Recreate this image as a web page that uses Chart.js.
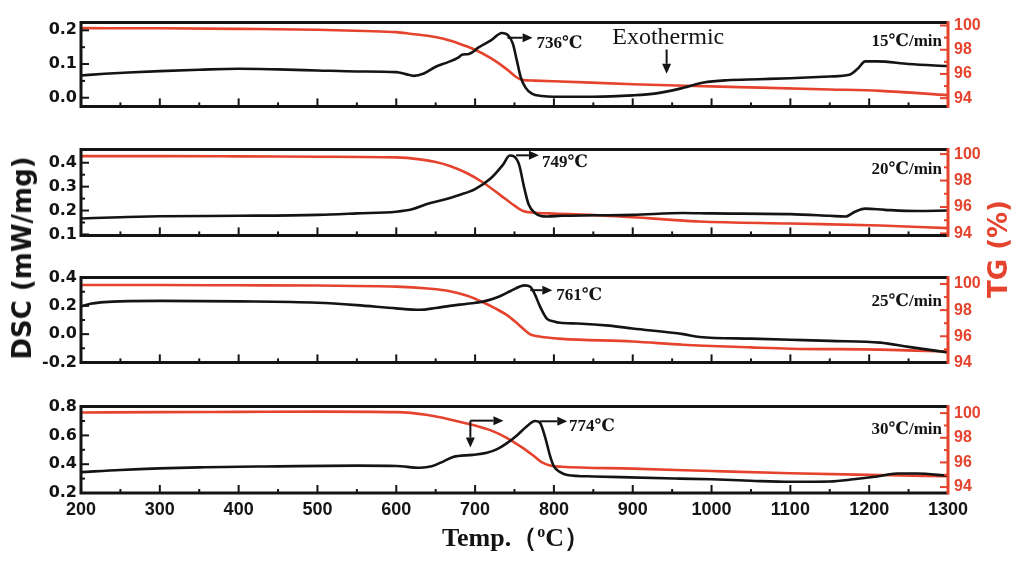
<!DOCTYPE html>
<html><head><meta charset="utf-8">
<script src="https://cdn.jsdelivr.net/npm/chart.js@4.4.1/dist/chart.umd.min.js"></script>
<style>
html,body{margin:0;padding:0;background:#fff;}
#wrap{position:relative;width:1014px;height:578px;overflow:hidden;background:#fff;}
canvas{position:absolute;left:0;}
.t{position:absolute;white-space:nowrap;}
</style></head><body>
<div id="wrap">
<canvas id="c1"></canvas><canvas id="c2"></canvas><canvas id="c3"></canvas><canvas id="c4"></canvas>
<div class="t" id="ytitle" style="left:22px;top:258px;transform:translate(-50%,-50%) rotate(-90deg);font:bold 26px 'DejaVu Sans',sans-serif;color:#141414;">DSC (mW/mg)</div>
<div class="t" id="y2title" style="left:998px;top:249px;transform:translate(-50%,-50%) rotate(-90deg);font:bold 26px 'DejaVu Sans',sans-serif;color:#e5432d;">TG (%)</div>
<div class="t" id="xtitle" style="left:516px;top:523px;transform:translateX(-50%);font:bold 26px 'Liberation Serif',serif;line-height:30px;color:#141414;">Temp.（<span style="font-size:16px;position:relative;top:-9px;">o</span>C）</div>
</div>
<script>
// ---------- data ----------
const xTickValues = [200,300,400,500,600,700,800,900,1000,1100,1200,1300];
const tgTickValues = [94,96,98,100];
const dscTicks15 = [0.0,0.1,0.2];
const dscTicks20 = [0.1,0.2,0.3,0.4];
const dscTicks25 = [-0.2,0.0,0.2,0.4];
const dscTicks30 = [0.2,0.4,0.6,0.8];
const rateLabels = ['15℃/min','20℃/min','25℃/min','30℃/min'];
const peakTemps = [736,749,761,774];

// 15 C/min
const dsc15T = [200,230,260,300,350,400,450,500,550,600,612,622,635,650,665,678,684,692,705,720,734,742,748,753,758,764,772,785,800,850,900,930,960,990,1020,1060,1100,1150,1175,1185,1195,1210,1250,1300];
const dsc15V = [0.066,0.071,0.075,0.079,0.083,0.086,0.084,0.081,0.078,0.076,0.070,0.065,0.072,0.092,0.105,0.118,0.128,0.130,0.150,0.170,0.192,0.185,0.160,0.110,0.060,0.030,0.012,0.005,0.003,0.003,0.007,0.013,0.027,0.045,0.052,0.055,0.058,0.063,0.068,0.085,0.108,0.108,0.100,0.094];
const tg15T = [200,300,400,500,560,600,620,640,660,680,700,720,740,752,760,775,800,900,1000,1062,1150,1214,1300];
const tg15V = [99.78,99.77,99.72,99.65,99.55,99.45,99.3,99.15,98.9,98.5,98.0,97.3,96.4,95.75,95.5,95.45,95.4,95.15,94.97,94.87,94.72,94.6,94.25];

// 20 C/min
const dsc20T = [200,250,300,400,500,550,600,620,640,660,680,700,720,735,744,750,756,762,768,776,791,810,850,900,964,1000,1100,1150,1170,1182,1195,1220,1260,1300];
const dsc20V = [0.167,0.172,0.176,0.178,0.182,0.188,0.195,0.205,0.228,0.245,0.265,0.29,0.335,0.39,0.43,0.425,0.39,0.30,0.225,0.19,0.175,0.178,0.180,0.182,0.19,0.188,0.185,0.178,0.175,0.195,0.208,0.203,0.198,0.200];
const tg20T = [200,300,400,500,600,630,650,668,690,710,732,750,763,780,800,880,985,1100,1214,1300];
const tg20V = [99.85,99.85,99.83,99.8,99.75,99.6,99.4,99.1,98.55,97.85,96.9,96.1,95.65,95.55,95.5,95.3,94.9,94.75,94.6,94.4];

// 25 C/min
const dsc25T = [200,212,225,250,300,400,500,550,600,630,650,668,690,710,730,745,763,770,776,782,791,800,808,830,870,900,964,985,1050,1100,1150,1214,1250,1300];
const dsc25V = [0.195,0.215,0.225,0.232,0.235,0.232,0.222,0.205,0.182,0.172,0.185,0.20,0.215,0.23,0.265,0.305,0.345,0.335,0.28,0.20,0.11,0.09,0.08,0.075,0.06,0.04,0.0,-0.02,-0.032,-0.04,-0.048,-0.06,-0.09,-0.13];
const tg25T = [200,300,400,500,600,640,668,690,710,725,741,755,770,780,791,810,900,964,1050,1100,1214,1300];
const tg25V = [99.92,99.92,99.9,99.88,99.8,99.65,99.45,99.1,98.6,98.15,97.6,96.9,96.15,96.0,95.9,95.8,95.6,95.35,95.15,95.05,94.98,94.83];

// 30 C/min
const dsc30T = [200,250,350,450,550,600,630,645,660,672,697,715,728,740,753,765,776,782,789,795,800,808,817,850,884,960,1000,1050,1100,1150,1180,1210,1235,1260,1300];
const dsc30V = [0.345,0.36,0.378,0.385,0.39,0.388,0.375,0.385,0.42,0.45,0.465,0.48,0.505,0.545,0.60,0.66,0.70,0.69,0.585,0.46,0.385,0.345,0.325,0.315,0.31,0.30,0.295,0.285,0.278,0.28,0.295,0.315,0.335,0.335,0.32];
const tg30T = [200,300,400,500,600,640,660,680,700,720,740,760,775,785,795,810,900,1000,1100,1212,1300];
const tg30V = [100.05,100.08,100.1,100.12,100.08,99.85,99.6,99.3,99.0,98.6,98.0,97.2,96.5,96.0,95.75,95.65,95.5,95.3,95.12,94.98,94.88];

// ---------- styling / layout ----------
const RED = '#e5432d';
const BLACK = '#141414';
const PAD = 14;
const LEFT_W = 81, RIGHT_W = 66;
const peakFont = 'bold 17px "Liberation Serif","DejaVu Serif","Noto Sans CJK SC",serif';

function pts(T,V){ return T.map((t,i)=>({x:t,y:V[i]})); }
function mids(a){ const r=[]; for(let i=0;i<a.length-1;i++) r.push((a[i]+a[i+1])/2); return r; }

function drawArrow(ctx,x1,y1,x2,y2){
  const ang=Math.atan2(y2-y1,x2-x1), L=10, W=4.5;
  const bx=x2-L*Math.cos(ang), by=y2-L*Math.sin(ang);
  ctx.beginPath(); ctx.moveTo(x1,y1); ctx.lineTo(bx,by); ctx.stroke();
  ctx.beginPath(); ctx.moveTo(x2,y2);
  ctx.lineTo(bx+W*Math.sin(ang), by-W*Math.cos(ang));
  ctx.lineTo(bx-W*Math.sin(ang), by+W*Math.cos(ang));
  ctx.closePath(); ctx.fill();
}

const framePlugin = {
  id:'frame',
  afterDatasetsDraw(chart){
    const o = chart.options.plugins.frame;
    const {ctx, chartArea:a} = chart;
    const x=chart.scales.x, y=chart.scales.y, y1=chart.scales.y1;
    ctx.save();
    const tick=(xa,ya,xb,yb)=>{ctx.beginPath();ctx.moveTo(xa,ya);ctx.lineTo(xb,yb);ctx.stroke();};
    ctx.lineWidth=2; ctx.strokeStyle=BLACK;
    xTickValues.forEach(v=>{const p=x.getPixelForValue(v); tick(p,a.bottom,p,a.bottom-8);});
    mids(xTickValues).forEach(v=>{const p=x.getPixelForValue(v); tick(p,a.bottom,p,a.bottom-4);});
    o.dscTicks.forEach(v=>{const p=y.getPixelForValue(v); tick(a.left,p,a.left+8,p);});
    mids(o.dscTicks).forEach(v=>{const p=y.getPixelForValue(v); tick(a.left,p,a.left+4,p);});
    ctx.strokeStyle=RED;
    tgTickValues.forEach(v=>{const p=y1.getPixelForValue(v); tick(a.right,p,a.right-8,p);});
    mids(tgTickValues).forEach(v=>{const p=y1.getPixelForValue(v); tick(a.right,p,a.right-4,p);});
    // frame
    ctx.lineWidth=3; ctx.strokeStyle=BLACK;
    ctx.beginPath(); ctx.moveTo(a.right,a.top); ctx.lineTo(a.left,a.top); ctx.lineTo(a.left,a.bottom); ctx.lineTo(a.right,a.bottom); ctx.stroke();
    ctx.strokeStyle=RED;
    ctx.beginPath(); ctx.moveTo(a.right,a.top-1.5); ctx.lineTo(a.right,a.bottom+1.5); ctx.stroke();
    // rate label
    ctx.fillStyle=BLACK; ctx.font=peakFont; ctx.textAlign='right'; ctx.textBaseline='middle';
    ctx.fillText(o.rate, a.right-6, a.top+o.rateDy);
    // arrows
    ctx.strokeStyle=BLACK; ctx.fillStyle=BLACK; ctx.lineWidth=2;
    o.arrows.forEach(ar=>drawArrow(ctx,x.getPixelForValue(ar[0]),y.getPixelForValue(ar[1]),x.getPixelForValue(ar[2]),y.getPixelForValue(ar[3])));
    ctx.textAlign='left'; ctx.textBaseline='middle';
    o.texts.forEach(t=>{ ctx.font=t.font; ctx.fillText(t.text,x.getPixelForValue(t.x),y.getPixelForValue(t.y)); });
    ctx.restore();
  }
};

const panels = [
  {id:'c1', top:21, bottom:108, dscT:dsc15T, dscV:dsc15V, tgT:tg15T, tgV:tg15V,
   dMin:-0.0257, dMax:0.2229, dscTicks:dscTicks15, tMin:93.32, tMax:100.24, rate:rateLabels[0], rateDy:19, showX:false,
   arrows:[[741,0.178,773,0.178],[943,0.143,943,0.071]],
   texts:[{text:peakTemps[0]+'℃', x:778, y:0.162, font:peakFont},
          {text:'Exothermic', x:874, y:0.177, font:'24px "Liberation Serif","DejaVu Serif",serif'}]},
  {id:'c2', top:148, bottom:237, dscT:dsc20T, dscV:dsc20V, tgT:tg20T, tgV:tg20V,
   dMin:0.096, dMax:0.455, dscTicks:dscTicks20, tMin:93.85, tMax:100.34, rate:rateLabels[1], rateDy:20, showX:false,
   arrows:[[752,0.431,781,0.431]],
   texts:[{text:peakTemps[1]+'℃', x:785, y:0.399, font:peakFont}]},
  {id:'c3', top:276, bottom:364, dscT:dsc25T, dscV:dsc25V, tgT:tg25T, tgV:tg25V,
   dMin:-0.2, dMax:0.4, dscTicks:dscTicks25, tMin:94.0, tMax:100.49, rate:rateLabels[2], rateDy:24, showX:false,
   arrows:[[770,0.311,798,0.311]],
   texts:[{text:peakTemps[2]+'℃', x:803, y:0.27, font:peakFont}]},
  {id:'c4', top:405, bottom:493, dscT:dsc30T, dscV:dsc30V, tgT:tg30T, tgV:tg30V,
   dMin:0.2, dMax:0.8, dscTicks:dscTicks30, tMin:93.52, tMax:100.53, rate:rateLabels[3], rateDy:23, showX:true,
   arrows:[[782,0.698,817,0.698],[694,0.7025,736,0.7025],[694,0.7025,694,0.516]],
   texts:[{text:peakTemps[3]+'℃', x:819, y:0.664, font:peakFont}]}
];

panels.forEach(p=>{
  const cv=document.getElementById(p.id);
  const xH = p.showX ? 40 : 0;
  const padB = p.showX ? 0 : PAD;
  cv.width=1014; cv.height=(p.bottom-p.top)+PAD+padB+xH;
  cv.style.top=(p.top-PAD)+'px';
  new Chart(cv,{
    type:'line',
    data:{datasets:[
      {data:pts(p.dscT,p.dscV), yAxisID:'y', borderColor:BLACK, borderWidth:2.6, pointRadius:0, cubicInterpolationMode:'monotone', fill:false},
      {data:pts(p.tgT,p.tgV), yAxisID:'y1', borderColor:RED, borderWidth:2.6, pointRadius:0, cubicInterpolationMode:'monotone', fill:false}
    ]},
    options:{
      responsive:false, animation:false, devicePixelRatio:1,
      layout:{padding:{top:PAD,bottom:padB,left:0,right:0}},
      plugins:{legend:{display:false}, tooltip:{enabled:false},
        frame:{dscTicks:p.dscTicks, rate:p.rate, rateDy:p.rateDy, arrows:p.arrows, texts:p.texts}},
      scales:{
        x:{type:'linear', min:200, max:1300,
           afterBuildTicks:s=>{s.ticks=xTickValues.map(v=>({value:v}));},
           grid:{display:false, drawTicks:false}, border:{display:false},
           ticks:{display:p.showX, padding:6, autoSkip:false, maxRotation:0, color:BLACK, callback:v=>String(v),
                  font:{family:'"Liberation Sans", Arial, sans-serif', weight:'bold', size:18}},
           afterFit:s=>{s.height=xH;}},
        y:{type:'linear', position:'left', min:p.dMin, max:p.dMax,
           afterBuildTicks:s=>{s.ticks=p.dscTicks.map(v=>({value:v}));},
           grid:{display:false, drawTicks:false}, border:{display:false},
           ticks:{padding:4, autoSkip:false, color:BLACK, callback:v=>Number(v).toFixed(1),
                  font:{family:'"DejaVu Sans", sans-serif', weight:'bold', size:16}},
           afterFit:s=>{s.width=LEFT_W;}},
        y1:{type:'linear', position:'right', min:p.tMin, max:p.tMax,
           afterBuildTicks:s=>{s.ticks=tgTickValues.map(v=>({value:v}));},
           grid:{display:false, drawTicks:false}, border:{display:false},
           ticks:{padding:6, autoSkip:false, color:RED, callback:v=>String(v),
                  font:{family:'"Liberation Sans", Arial, sans-serif', weight:'bold', size:16}},
           afterFit:s=>{s.width=RIGHT_W;}}
      }
    },
    plugins:[framePlugin]
  });
});
</script>
</body></html>
